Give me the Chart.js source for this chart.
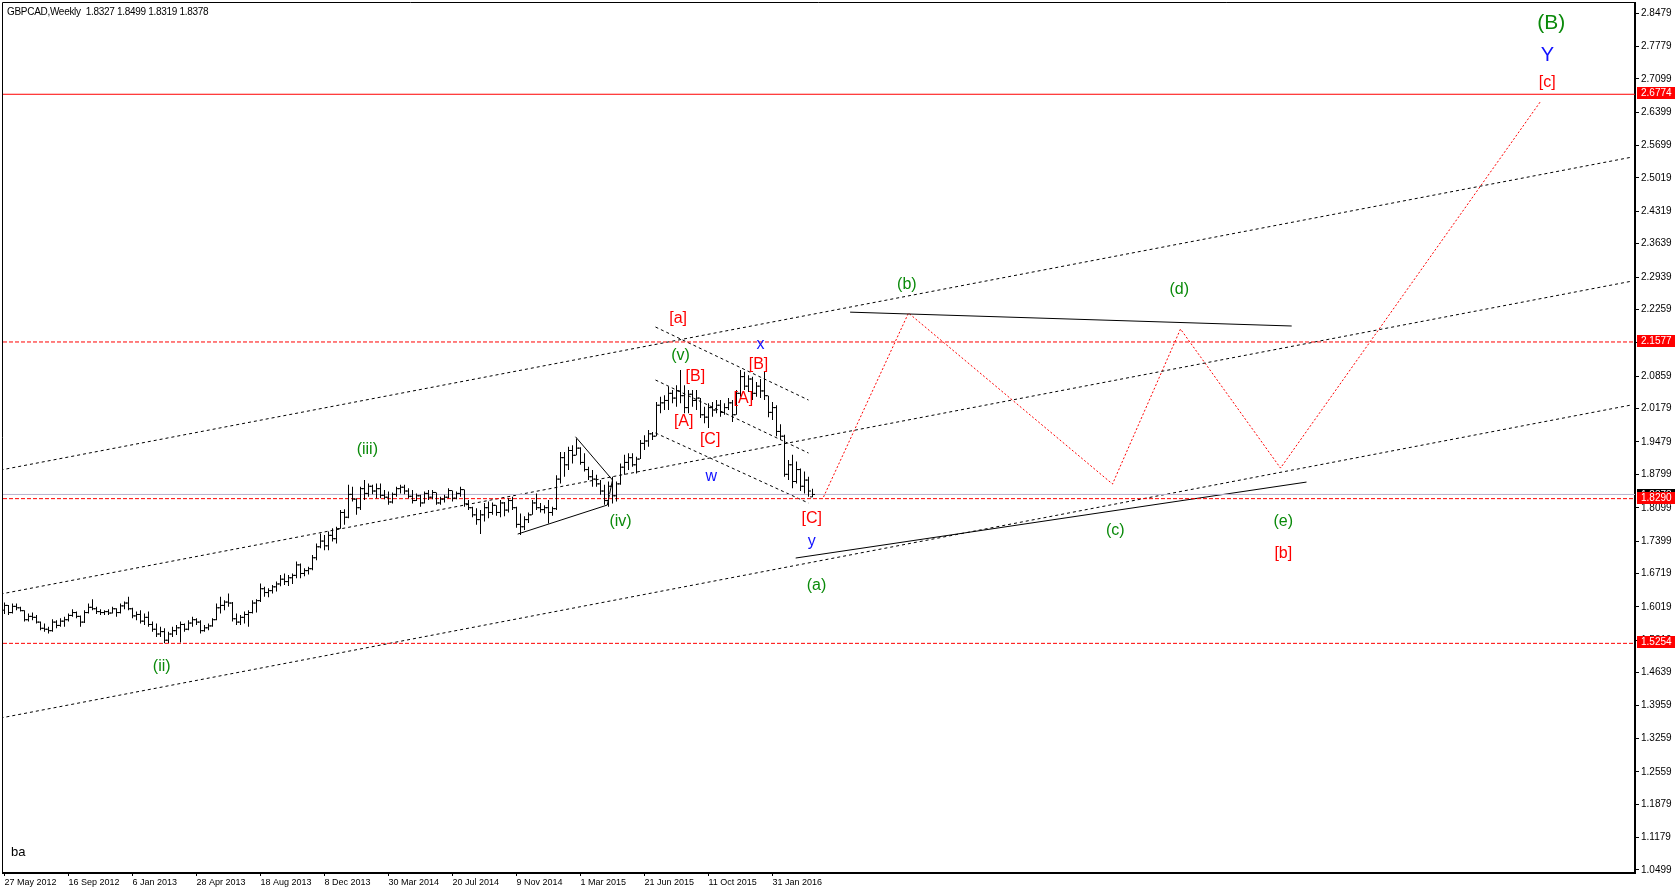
<!DOCTYPE html>
<html>
<head>
<meta charset="utf-8">
<title>GBPCAD Weekly</title>
<script src="https://cdn.jsdelivr.net/npm/chart.js@4.4.1/dist/chart.umd.min.js"></script>
<style>
  html, body { margin: 0; padding: 0; background: #fff; }
  canvas { display: block; }
</style>
</head>
<body>
<canvas id="chart" width="1676" height="894"></canvas>
<script>
// weekly bars, index 0 = week of 27 May 2012
const weekOpen = [
  1.595,1.605,1.590,1.603,1.600,1.594,1.575,1.582,1.580,1.570,
  1.557,1.555,1.552,1.570,1.563,1.572,1.575,1.584,1.590,1.582,
  1.570,1.590,1.601,1.598,1.592,1.590,1.592,1.589,1.598,1.590,
  1.604,1.610,1.598,1.583,1.586,1.572,1.580,1.565,1.555,1.545,
  1.550,1.532,1.545,1.552,1.558,1.565,1.555,1.568,1.575,1.570,
  1.552,1.558,1.562,1.575,1.600,1.605,1.612,1.610,1.577,1.570,
  1.580,1.586,1.590,1.610,1.615,1.640,1.632,1.636,1.644,1.650,
  1.660,1.655,1.663,1.668,1.690,1.672,1.678,1.682,1.705,1.728,
  1.740,1.730,1.752,1.745,1.766,1.800,1.790,1.838,1.828,1.810,
  1.850,1.840,1.855,1.845,1.850,1.836,1.832,1.822,1.838,1.850,
  1.853,1.845,1.834,1.825,1.835,1.820,1.840,1.832,1.842,1.820,
  1.828,1.832,1.846,1.830,1.840,1.848,1.818,1.810,1.795,1.785,
  1.795,1.810,1.800,1.815,1.800,1.820,1.805,1.825,1.810,1.775,
  1.770,1.785,1.795,1.820,1.810,1.806,1.810,1.800,1.808,1.870,
  1.915,1.900,1.930,1.920,1.935,1.905,1.890,1.875,1.870,1.860,
  1.845,1.825,1.855,1.835,1.860,1.895,1.905,1.915,1.900,1.912,
  1.945,1.950,1.965,1.960,2.025,2.030,2.035,2.050,2.040,2.055,
  2.045,2.020,2.048,2.035,2.040,2.005,2.000,2.020,2.015,2.025,
  2.010,2.020,2.030,2.005,2.050,2.085,2.065,2.080,2.050,2.065,
  2.055,2.045,2.010,2.020,1.970,1.960,1.880,1.900,1.865,1.890,
  1.855,1.868,1.8327
];
const weekHigh = [
  1.611,1.606,1.609,1.609,1.602,1.595,1.588,1.590,1.585,1.571,
  1.567,1.560,1.576,1.574,1.578,1.581,1.588,1.597,1.592,1.584,
  1.595,1.609,1.618,1.602,1.597,1.595,1.597,1.602,1.599,1.609,
  1.613,1.623,1.600,1.592,1.595,1.588,1.592,1.571,1.567,1.560,
  1.557,1.550,1.560,1.564,1.571,1.567,1.574,1.581,1.578,1.574,
  1.564,1.567,1.578,1.609,1.623,1.616,1.630,1.612,1.588,1.585,
  1.592,1.595,1.616,1.618,1.651,1.644,1.641,1.648,1.655,1.669,
  1.672,1.669,1.672,1.697,1.693,1.683,1.686,1.711,1.735,1.756,
  1.753,1.760,1.767,1.770,1.805,1.807,1.858,1.854,1.830,1.854,
  1.868,1.861,1.858,1.861,1.861,1.847,1.844,1.842,1.854,1.858,
  1.858,1.851,1.847,1.840,1.837,1.844,1.847,1.847,1.842,1.833,
  1.837,1.851,1.846,1.844,1.854,1.848,1.826,1.812,1.809,1.805,
  1.820,1.823,1.821,1.815,1.826,1.822,1.830,1.833,1.812,1.798,
  1.792,1.800,1.826,1.840,1.820,1.815,1.826,1.812,1.878,1.927,
  1.927,1.938,1.941,1.955,1.937,1.924,1.896,1.889,1.879,1.868,
  1.858,1.865,1.875,1.865,1.903,1.921,1.924,1.924,1.917,1.952,
  1.962,1.973,1.969,2.032,2.043,2.046,2.064,2.057,2.067,2.099,
  2.067,2.057,2.057,2.057,2.040,2.022,2.029,2.032,2.036,2.036,
  2.029,2.040,2.036,2.057,2.099,2.095,2.088,2.085,2.074,2.080,
  2.095,2.045,2.032,2.025,1.985,1.963,1.910,1.921,1.907,1.892,
  1.886,1.875,1.8499
];
const weekLow = [
  1.587,1.585,1.588,1.595,1.592,1.571,1.571,1.574,1.567,1.553,
  1.550,1.546,1.550,1.557,1.560,1.560,1.571,1.581,1.578,1.560,
  1.568,1.588,1.595,1.587,1.585,1.585,1.585,1.588,1.581,1.588,
  1.597,1.595,1.578,1.574,1.567,1.564,1.560,1.550,1.539,1.539,
  1.5254,1.526,1.539,1.543,1.527,1.550,1.553,1.560,1.564,1.546,
  1.550,1.553,1.560,1.574,1.588,1.595,1.602,1.571,1.564,1.564,
  1.567,1.560,1.588,1.590,1.612,1.623,1.622,1.630,1.634,1.645,
  1.648,1.646,1.650,1.662,1.662,1.666,1.670,1.679,1.700,1.725,
  1.721,1.721,1.739,1.735,1.766,1.774,1.788,1.823,1.795,1.805,
  1.826,1.833,1.838,1.830,1.830,1.828,1.816,1.819,1.833,1.840,
  1.838,1.830,1.819,1.824,1.812,1.819,1.826,1.828,1.816,1.816,
  1.821,1.830,1.823,1.828,1.833,1.812,1.805,1.790,1.774,1.755,
  1.781,1.788,1.795,1.793,1.790,1.792,1.800,1.805,1.768,1.753,
  1.763,1.778,1.795,1.805,1.800,1.798,1.777,1.793,1.805,1.861,
  1.875,1.889,1.903,1.920,1.900,1.886,1.868,1.854,1.854,1.837,
  1.816,1.812,1.819,1.823,1.858,1.879,1.889,1.896,1.882,1.912,
  1.931,1.938,1.952,1.960,2.008,2.015,2.015,2.029,2.022,2.029,
  2.008,2.008,2.022,2.015,1.998,1.987,1.977,2.001,2.008,2.001,
  2.005,2.015,1.990,2.005,2.043,2.057,2.053,2.036,2.043,2.040,
  2.036,2.000,1.994,1.960,1.952,1.875,1.868,1.851,1.861,1.845,
  1.840,1.833,1.8319
];
const weekClose = [
  1.605,1.590,1.603,1.600,1.594,1.575,1.582,1.580,1.570,1.557,
  1.555,1.552,1.570,1.563,1.572,1.575,1.584,1.590,1.582,1.570,
  1.590,1.601,1.598,1.592,1.590,1.592,1.589,1.598,1.590,1.604,
  1.610,1.598,1.583,1.586,1.572,1.580,1.565,1.555,1.545,1.550,
  1.532,1.545,1.552,1.558,1.565,1.555,1.568,1.575,1.570,1.552,
  1.558,1.562,1.575,1.600,1.605,1.612,1.610,1.577,1.570,1.580,
  1.586,1.590,1.610,1.615,1.640,1.632,1.636,1.644,1.650,1.660,
  1.655,1.663,1.668,1.690,1.672,1.678,1.682,1.705,1.728,1.740,
  1.730,1.752,1.745,1.766,1.800,1.790,1.838,1.828,1.810,1.850,
  1.840,1.855,1.845,1.850,1.836,1.832,1.822,1.838,1.850,1.853,
  1.845,1.834,1.825,1.835,1.820,1.840,1.832,1.842,1.820,1.828,
  1.832,1.846,1.830,1.840,1.848,1.818,1.810,1.795,1.785,1.795,
  1.810,1.800,1.815,1.800,1.820,1.805,1.825,1.810,1.775,1.770,
  1.785,1.795,1.820,1.810,1.806,1.810,1.800,1.808,1.870,1.915,
  1.900,1.930,1.920,1.935,1.905,1.890,1.875,1.870,1.860,1.845,
  1.825,1.855,1.835,1.860,1.895,1.905,1.915,1.900,1.912,1.945,
  1.950,1.965,1.960,2.025,2.030,2.035,2.050,2.040,2.055,2.045,
  2.020,2.048,2.035,2.040,2.005,2.000,2.020,2.015,2.025,2.010,
  2.020,2.030,2.005,2.050,2.085,2.065,2.080,2.050,2.065,2.055,
  2.045,2.010,2.020,1.970,1.960,1.880,1.900,1.865,1.890,1.855,
  1.868,1.845,1.8378
];

// axis ticks
const dateTicks = [0, 16, 32, 48, 64, 80, 96, 112, 128, 144, 160, 176, 192];
const dateLabels = ['27 May 2012', '16 Sep 2012', '6 Jan 2013', '28 Apr 2013', '18 Aug 2013', '8 Dec 2013',
  '30 Mar 2014', '20 Jul 2014', '9 Nov 2014', '1 Mar 2015', '21 Jun 2015', '11 Oct 2015', '31 Jan 2016'];
const priceTicks = [2.8479, 2.7779, 2.7099, 2.6399, 2.5699, 2.5019, 2.4319, 2.3639, 2.2939, 2.2259,
  2.1559, 2.0859, 2.0179, 1.9479, 1.8799, 1.8099, 1.7399, 1.6719, 1.6019, 1.5319,
  1.4639, 1.3959, 1.3259, 1.2559, 1.1879, 1.1179, 1.0499];

// price levels
const solidLevel = 2.6774;
const dashedLevels = [2.1577, 1.8290, 1.5254];
const bidPrice = 1.8378;

// drawn objects: [week1, price1, week2, price2]
const channelLines = [
  [-1, 1.8890, 407, 2.5458],
  [-1, 1.6288, 407, 2.2856],
  [-1, 1.3687, 407, 2.0260]
];
const wedgeLines = [
  [162.75, 2.1891, 201, 2.0359],
  [162.75, 2.0779, 201, 1.9247],
  [162.75, 1.9667, 201, 1.8198]
];
const solidLines = [
  [128.3, 1.7547, 150.7, 1.8156],
  [142.75, 1.9589, 152, 1.8681],
  [152, 1.8681, 150.7, 1.8156],
  [197.8, 1.7044, 325.5, 1.8638],
  [211.4, 2.2203, 321.8, 2.1912]
];
const projectionWeeks = [204.75, 226, 277, 294, 319, 384];
const projectionPrices = [1.8324, 2.2185, 1.8597, 2.1849, 1.8932, 2.6622];

// wave labels: [text, week, price]
const greenLabels = [
  ['(ii)', 39.3, 1.476], ['(iii)', 90.7, 1.931], ['(iv)', 154, 1.781], ['(v)', 169, 2.130],
  ['(a)', 203, 1.646], ['(b)', 225.6, 2.279], ['(c)', 277.7, 1.763], ['(d)', 293.7, 2.267],
  ['(e)', 319.7, 1.781]
];
const bigLabels = [['(B)', 386.7, 2.826]];
const redLabels = [
  ['[a]', 168.4, 2.207], ['[B]', 172.7, 2.086], ['[A]', 169.8, 1.990], ['[C]', 176.4, 1.952],
  ['[A]', 184.7, 2.038], ['[B]', 188.5, 2.110], ['[C]', 201.8, 1.788], ['[b]', 319.7, 1.714],
  ['[c]', 385.7, 2.702]
];
const blueLabels = [['w', 176.7, 1.876], ['x', 189, 2.153], ['y', 201.8, 1.738], ['Y', 385.7, 2.758]];

const FONT = "'Liberation Sans', Arial, sans-serif";
const GREEN = '#0a8a0a';
const RED = '#ff0000';
const BLUE = '#1010ff';

function segment(seg, color, dash) {
  return {
    type: 'line',
    data: [{ x: seg[0], y: seg[1] }, { x: seg[2], y: seg[3] }],
    borderColor: color,
    borderWidth: 1,
    borderDash: dash,
    pointRadius: 0,
    fill: false,
    tension: 0,
    order: 3
  };
}

const datasets = [];

// high-low stems
datasets.push({
  type: 'bar',
  data: weekHigh.map((h, i) => ({ x: i, y: [weekLow[i], h] })),
  backgroundColor: '#000',
  borderWidth: 0,
  barThickness: 1,
  inflateAmount: 0,
  grouped: false,
  order: 1
});
// open ticks (left) and close ticks (right)
datasets.push({
  type: 'line',
  data: weekOpen.map((o, i) => ({ x: i - 0.375, y: o })),
  showLine: false,
  pointStyle: 'line',
  pointRadius: 1,
  pointBorderWidth: 1,
  pointBorderColor: '#000',
  order: 0
});
datasets.push({
  type: 'line',
  data: weekClose.map((c, i) => ({ x: i + 0.375, y: c })),
  showLine: false,
  pointStyle: 'line',
  pointRadius: 1,
  pointBorderWidth: 1,
  pointBorderColor: '#000',
  order: 0
});

const xMin = -0.375, xMax = 407.625;
datasets.push(segment([xMin, bidPrice, xMax, bidPrice], '#b8b2cc', []));
datasets.push(segment([xMin, solidLevel, xMax, solidLevel], RED, []));
dashedLevels.forEach(p => datasets.push(segment([xMin, p, xMax, p], RED, [4, 2])));
channelLines.forEach(s => datasets.push(segment(s, '#000', [3, 3])));
wedgeLines.forEach(s => datasets.push(segment(s, '#000', [3, 3])));
solidLines.forEach(s => datasets.push(segment(s, '#000', [])));
datasets.push({
  type: 'line',
  data: projectionWeeks.map((w, i) => ({ x: w, y: projectionPrices[i] })),
  borderColor: RED,
  borderWidth: 1,
  borderDash: [2, 2],
  pointRadius: 0,
  fill: false,
  tension: 0,
  order: 3
});

const overlay = {
  id: 'overlay',
  afterDatasetsDraw(chart) {
    const ctx = chart.ctx, xs = chart.scales.x, ys = chart.scales.y;
    ctx.save();
    ctx.textAlign = 'center';
    ctx.textBaseline = 'middle';
    const put = (list, color, size) => {
      ctx.fillStyle = color;
      ctx.font = size + 'px ' + FONT;
      list.forEach(l => ctx.fillText(l[0], xs.getPixelForValue(l[1]), ys.getPixelForValue(l[2])));
    };
    put(greenLabels, GREEN, 16);
    put(bigLabels, GREEN, 21);
    put(redLabels, RED, 16);
    put(blueLabels.slice(0, 3), BLUE, 16);
    put(blueLabels.slice(3), BLUE, 20);
    ctx.restore();
  },
  afterDraw(chart) {
    const ctx = chart.ctx, ys = chart.scales.y, a = chart.chartArea;
    ctx.save();
    // frame
    ctx.strokeStyle = '#000';
    ctx.lineWidth = 1;
    ctx.beginPath();
    ctx.moveTo(a.left - 0.5, a.bottom);
    ctx.lineTo(a.left - 0.5, a.top - 0.5);
    ctx.lineTo(a.right, a.top - 0.5);
    ctx.stroke();
    // header text
    ctx.fillStyle = '#000';
    ctx.font = '10px ' + FONT;
    ctx.textAlign = 'left';
    ctx.textBaseline = 'alphabetic';
    ctx.letterSpacing = '-0.3px';
    ctx.fillText('GBPCAD,Weekly  1.8327 1.8499 1.8319 1.8378', 7, 15);
    ctx.letterSpacing = '0px';
    ctx.font = '13px ' + FONT;
    ctx.fillText('ba', 11, 856);
    // price boxes on the right axis
    const box = (price, fill, top) => {
      const py = Math.round(ys.getPixelForValue(price));
      ctx.fillStyle = fill;
      ctx.fillRect(a.right + 2, py - top, 38, 12);
      ctx.fillStyle = '#fff';
      ctx.font = '10px ' + FONT;
      ctx.textBaseline = 'middle';
      ctx.fillText(price.toFixed(4), a.right + 6, py - top + 6);
    };
    box(bidPrice, '#000', 5);
    [solidLevel].concat(dashedLevels).forEach(p => box(p, RED, 7));
    ctx.restore();
  }
};

new Chart(document.getElementById('chart'), {
  type: 'bar',
  data: { datasets },
  options: {
    responsive: false,
    animation: false,
    devicePixelRatio: 1,
    events: [],
    layout: { padding: { left: 3, top: 3, right: 0, bottom: 0 }, autoPadding: false },
    plugins: { legend: { display: false }, tooltip: { enabled: false } },
    scales: {
      x: {
        type: 'linear',
        min: xMin,
        max: xMax,
        offset: false,
        grid: { display: true, offset: false, drawOnChartArea: false, drawTicks: true, tickLength: 3, color: '#000' },
        border: { display: true, color: '#000', width: 2 },
        afterBuildTicks: s => { s.ticks = dateTicks.map(v => ({ value: v })); },
        afterFit: s => { s.height = 21; s.paddingLeft = 0; s.paddingRight = 0; },
        ticks: {
          autoSkip: false,
          maxRotation: 0,
          align: 'start',
          padding: 1,
          color: '#000',
          font: { family: FONT, size: 9 },
          callback: (v, i) => dateLabels[i]
        }
      },
      y: {
        type: 'linear',
        position: 'right',
        min: 1.0436,
        max: 2.8689,
        grid: { display: true, drawOnChartArea: false, drawTicks: true, tickLength: 4, color: '#000' },
        border: { display: true, color: '#000', width: 2 },
        afterBuildTicks: s => { s.ticks = priceTicks.map(v => ({ value: v })); },
        afterFit: s => { s.width = 41; s.paddingTop = 0; s.paddingBottom = 0; },
        ticks: {
          padding: 2,
          color: '#000',
          font: { family: FONT, size: 10 },
          callback: v => v.toFixed(4)
        }
      }
    }
  },
  plugins: [overlay]
});
</script>
</body>
</html>
